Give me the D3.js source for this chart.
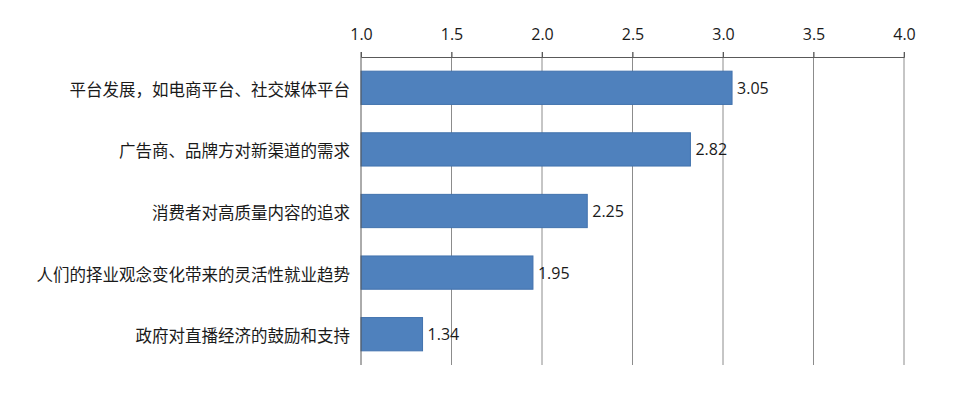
<!DOCTYPE html>
<html><head><meta charset="utf-8">
<script src="https://cdn.jsdelivr.net/npm/d3@7"></script>
<style>body{margin:0;background:#fff}svg{display:block}</style>
</head><body>
<svg id="c" width="959" height="394"></svg>
<script>
const categories = ["平台发展，如电商平台、社交媒体平台","广告商、品牌方对新渠道的需求","消费者对高质量内容的追求","人们的择业观念变化带来的灵活性就业趋势","政府对直播经济的鼓励和支持"];
const values = [3.05, 2.82, 2.25, 1.95, 1.34];
const tickValues = [1.0, 1.5, 2.0, 2.5, 3.0, 3.5, 4.0];

const svg = d3.select("#c");
const cjkFont = "'Noto Sans CJK SC',sans-serif";
const numFont = "'Open Sans','Noto Sans',sans-serif";
const x = d3.scaleLinear().domain([1, 4]).range([361, 904]);
const y = d3.scaleBand().domain(categories).range([57, 365]).paddingInner(0.46).paddingOuter(0.23);

// gridlines
svg.append("g").selectAll("line").data(tickValues.slice(1)).join("line")
  .attr("x1", d => x(d)).attr("x2", d => x(d)).attr("y1", 52).attr("y2", 365)
  .attr("stroke", "#8c8c8c").attr("stroke-width", 1);

// bars
svg.append("g").selectAll("rect").data(values).join("rect")
  .attr("x", x(1)).attr("y", (d, i) => y(categories[i]))
  .attr("width", d => x(d) - x(1)).attr("height", y.bandwidth())
  .attr("fill", "#4f81bd").attr("stroke", "#4272ad").attr("stroke-width", 1);

// top axis
const ax = svg.append("g").attr("transform", "translate(0,57)")
  .call(d3.axisTop(x).tickValues(tickValues).tickFormat(d3.format(".1f")).tickSizeOuter(0).tickSize(5).tickPadding(12));
ax.select(".domain").attr("stroke", "#595959");
ax.selectAll(".tick line").attr("stroke", "#595959");
ax.selectAll("text").attr("font-family", numFont).attr("font-size", 16).attr("fill", "#1a1a1a");

// left axis line
svg.append("line").attr("x1", x(1)).attr("x2", x(1)).attr("y1", 52).attr("y2", 365)
  .attr("stroke", "#595959").attr("stroke-width", 1);

// category labels
svg.append("g").selectAll("text").data(categories).join("text")
  .attr("x", 350).attr("y", d => y(d) + y.bandwidth() / 2 + 1)
  .attr("text-anchor", "end").attr("dominant-baseline", "central")
  .attr("font-family", cjkFont).attr("font-size", 16.5).attr("fill", "#1a1a1a")
  .text(d => d);

// value labels
svg.append("g").selectAll("text").data(values).join("text")
  .attr("x", d => x(d) + 5).attr("y", (d, i) => y(categories[i]) + y.bandwidth() / 2)
  .attr("dominant-baseline", "central")
  .attr("font-family", numFont).attr("font-size", 16).attr("fill", "#1a1a1a")
  .text(d => d.toFixed(2));
</script>
</body></html>
